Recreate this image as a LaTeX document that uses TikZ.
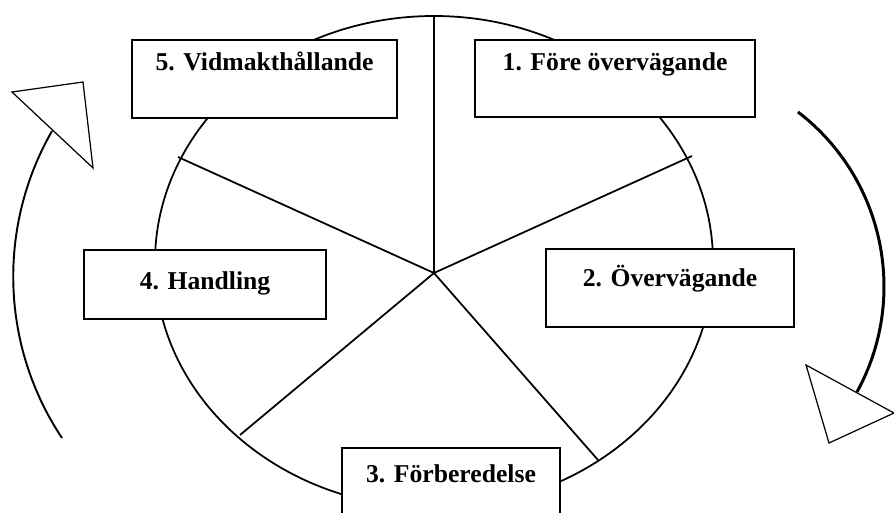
\documentclass[tikz,border=0pt]{standalone}
\usepackage{fontspec}
\setmainfont{Liberation Serif}
\usetikzlibrary{positioning}

\begin{document}
\begin{tikzpicture}[
  x=0.2mm, y=-0.2mm,
  font=\fontsize{14.6}{17}\selectfont\bfseries,
  stage/.style={draw, fill=white, line width=1.2pt, anchor=north west, inner xsep=0pt, inner ysep=0pt, text height=7mm, align=center},
  spoke/.style={line width=1pt},
  cycle/.style={line width=1.1pt},
  head/.style={draw, fill=white, line width=0.7pt, line join=miter}
]
  \useasboundingbox[fill=white] (0,0) rectangle (894,513);
  \clip (0,0) rectangle (894,513);

  \coordinate (mid) at (434,262);
  \coordinate (hub) at (434,273);
  \coordinate (s1) at (434,16);
  \coordinate (s2) at (692,156);
  \coordinate (s3) at (598,460);
  \coordinate (s4) at (240,435);
  \coordinate (s5) at (178,157);

  \draw[spoke] (mid) ellipse [x radius=55.8mm, y radius=49.2mm];
  \foreach \s in {s1,s2,s3,s4,s5}
    \draw[spoke] (hub) -- (\s);

  \node[stage, minimum width=53mm, text height=6mm, text depth=9.6mm] (vidm) at (131,39) {5. Vidmakthållande};
  \node[stage, minimum width=56mm, text height=6mm, text depth=9.4mm] (fore) at (474,39) {1. Före övervägande};
  \node[stage, minimum width=49.6mm, text depth=8.2mm, text height=7.4mm] (overv) at (545,248) {2. Övervägande};
  \node[stage, minimum width=48.4mm, text depth=6mm, text height=7.8mm] (handl) at (83,249) {4. Handling};
  \node[stage, minimum width=43.6mm, text depth=10mm, text height=6.8mm] (forb) at (341,447) {3. Förberedelse};

  \coordinate (l0) at (62,438);
  \coordinate (l1) at (52,131);
  \draw[cycle] (l0) .. controls (0.7,346) and (-3,227) .. (l1);
  \draw[head] (12,92) -- (83,82) -- (93,168) -- cycle;

  \coordinate (r0) at (798,112);
  \coordinate (r1) at (857,392);
  \draw[cycle, line width=1.7pt] (r0) .. controls (884,178) and (909,297) .. (r1);
  \draw[head] (806,365) -- (894,413) -- (829,443) -- cycle;
\end{tikzpicture}
\end{document}
